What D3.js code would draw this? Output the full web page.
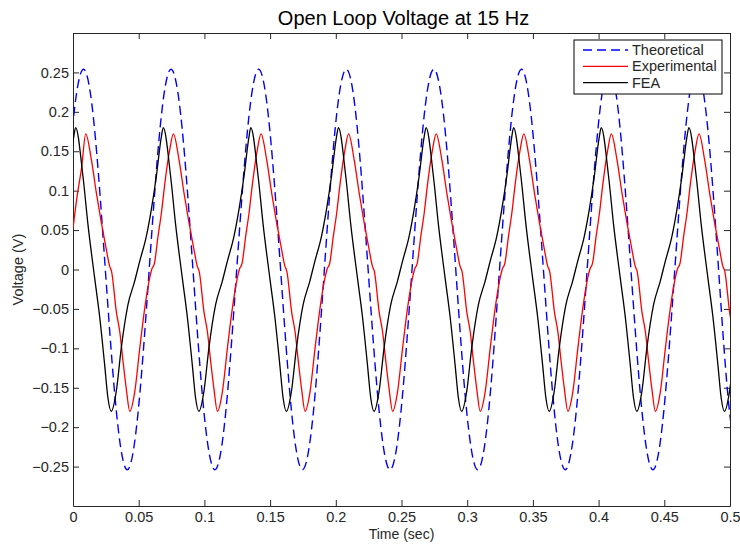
<!DOCTYPE html>
<html>
<head>
<meta charset="utf-8">
<script src="https://cdn.jsdelivr.net/npm/d3@7"></script>
<style>
  html, body { margin: 0; padding: 0; background: #ffffff; }
  svg { display: block; font-family: "Liberation Sans", Arial, Helvetica, sans-serif; }
</style>
</head>
<body>
<svg id="chart" width="740" height="544"></svg>
<script>
// ---- axis ticks ----
const xTickValues = [0, 0.05, 0.1, 0.15, 0.2, 0.25, 0.3, 0.35, 0.4, 0.45, 0.5];
const xTickLabels = ["0", "0.05", "0.1", "0.15", "0.2", "0.25", "0.3", "0.35", "0.4", "0.45", "0.5"];
const yTickValues = [-0.25, -0.2, -0.15, -0.1, -0.05, 0, 0.05, 0.1, 0.15, 0.2, 0.25];
const yTickLabels = ["\u22120.25", "\u22120.2", "\u22120.15", "\u22120.1", "\u22120.05", "0", "0.05", "0.1", "0.15", "0.2", "0.25"];

// ---- series: [time (s), voltage (V)] ----
const seriesNames = ["Theoretical", "Experimental", "FEA"];

const theoretical = [
  [-0.0087, 0], [-0.0004, 0.180], [0.0080, 0.254], [0.0163, 0.180], [0.0246, 0], [0.0330, -0.180],
  [0.0413, -0.254], [0.0496, -0.180], [0.0580, 0], [0.0663, 0.180], [0.0746, 0.254], [0.0830, 0.180],
  [0.0913, 0], [0.0996, -0.180], [0.1080, -0.254], [0.1163, -0.180], [0.1246, 0], [0.1330, 0.180],
  [0.1413, 0.254], [0.1496, 0.180], [0.1580, 0], [0.1663, -0.180], [0.1746, -0.254], [0.1830, -0.180],
  [0.1913, 0], [0.1996, 0.180], [0.2080, 0.254], [0.2163, 0.180], [0.2246, 0], [0.2330, -0.180],
  [0.2413, -0.254], [0.2496, -0.180], [0.2580, 0], [0.2663, 0.180], [0.2746, 0.254], [0.2830, 0.180],
  [0.2913, 0], [0.2996, -0.180], [0.3080, -0.254], [0.3163, -0.180], [0.3246, 0], [0.3330, 0.180],
  [0.3413, 0.254], [0.3496, 0.180], [0.3580, 0], [0.3663, -0.180], [0.3746, -0.254], [0.3830, -0.180],
  [0.3913, 0], [0.3996, 0.180], [0.4080, 0.254], [0.4163, 0.180], [0.4246, 0], [0.4330, -0.180],
  [0.4413, -0.254], [0.4496, -0.180], [0.4580, 0], [0.4663, 0.180], [0.4746, 0.254], [0.4830, 0.180],
  [0.4913, 0], [0.4996, -0.180], [0.5080, -0.254]
];

const experimental = [
  [0.0000, 0.052], [0.0027, 0.088], [0.0066, 0.130],
  [0.0097, 0.172], [0.0140, 0.139], [0.0178, 0.097], [0.0254, 0.025], [0.0279, 0.004], [0.0293, -0.002],
  [0.0330, -0.054], [0.0356, -0.079], [0.0381, -0.117], [0.0406, -0.152], [0.0432, -0.180],
  [0.0470, -0.155], [0.0508, -0.100], [0.0546, -0.049], [0.0582, -0.012], [0.0599, 0.000],
  [0.0620, 0.008], [0.0647, 0.042], [0.0673, 0.072], [0.0698, 0.108], [0.0736, 0.152],
  [0.0764, 0.172], [0.0807, 0.139], [0.0845, 0.097], [0.0921, 0.025], [0.0946, 0.004], [0.0960, -0.002],
  [0.0997, -0.054], [0.1023, -0.079], [0.1048, -0.117], [0.1073, -0.152], [0.1099, -0.180],
  [0.1137, -0.155], [0.1175, -0.100], [0.1213, -0.049], [0.1249, -0.012], [0.1266, 0.000],
  [0.1287, 0.008], [0.1314, 0.042], [0.1340, 0.072], [0.1365, 0.108], [0.1403, 0.152],
  [0.1431, 0.172], [0.1474, 0.139], [0.1512, 0.097], [0.1588, 0.025], [0.1613, 0.004], [0.1627, -0.002],
  [0.1664, -0.054], [0.1690, -0.079], [0.1715, -0.117], [0.1740, -0.152], [0.1766, -0.180],
  [0.1804, -0.155], [0.1842, -0.100], [0.1880, -0.049], [0.1916, -0.012], [0.1933, 0.000],
  [0.1954, 0.008], [0.1981, 0.042], [0.2007, 0.072], [0.2032, 0.108], [0.2070, 0.152],
  [0.2097, 0.172], [0.2140, 0.139], [0.2178, 0.097], [0.2254, 0.025], [0.2279, 0.004], [0.2293, -0.002],
  [0.2330, -0.054], [0.2356, -0.079], [0.2381, -0.117], [0.2406, -0.152], [0.2432, -0.180],
  [0.2470, -0.155], [0.2508, -0.100], [0.2546, -0.049], [0.2582, -0.012], [0.2599, 0.000],
  [0.2620, 0.008], [0.2647, 0.042], [0.2673, 0.072], [0.2698, 0.108], [0.2736, 0.152],
  [0.2764, 0.172], [0.2807, 0.139], [0.2845, 0.097], [0.2921, 0.025], [0.2946, 0.004], [0.2960, -0.002],
  [0.2997, -0.054], [0.3023, -0.079], [0.3048, -0.117], [0.3073, -0.152], [0.3099, -0.180],
  [0.3137, -0.155], [0.3175, -0.100], [0.3213, -0.049], [0.3249, -0.012], [0.3266, 0.000],
  [0.3287, 0.008], [0.3314, 0.042], [0.3340, 0.072], [0.3365, 0.108], [0.3403, 0.152],
  [0.3431, 0.172], [0.3474, 0.139], [0.3512, 0.097], [0.3588, 0.025], [0.3613, 0.004], [0.3627, -0.002],
  [0.3664, -0.054], [0.3690, -0.079], [0.3715, -0.117], [0.3740, -0.152], [0.3766, -0.180],
  [0.3804, -0.155], [0.3842, -0.100], [0.3880, -0.049], [0.3916, -0.012], [0.3933, 0.000],
  [0.3954, 0.008], [0.3981, 0.042], [0.4007, 0.072], [0.4032, 0.108], [0.4070, 0.152],
  [0.4097, 0.172], [0.4140, 0.139], [0.4178, 0.097], [0.4254, 0.025], [0.4279, 0.004], [0.4293, -0.002],
  [0.4330, -0.054], [0.4356, -0.079], [0.4381, -0.117], [0.4406, -0.152], [0.4432, -0.180],
  [0.4470, -0.155], [0.4508, -0.100], [0.4546, -0.049], [0.4582, -0.012], [0.4599, 0.000],
  [0.4620, 0.008], [0.4647, 0.042], [0.4673, 0.072], [0.4698, 0.108], [0.4736, 0.152],
  [0.4764, 0.172], [0.4807, 0.139], [0.4845, 0.097], [0.4921, 0.025], [0.4946, 0.004], [0.4960, -0.002],
  [0.4997, -0.054], [0.5023, -0.079]
];

const fea = [
  [-0.0033, 0.118], [0.0005, 0.168],
  [0.0020, 0.180], [0.0076, 0.118], [0.0114, 0.057], [0.0165, -0.011], [0.0203, -0.060], [0.0241, -0.121],
  [0.0266, -0.163], [0.0291, -0.180], [0.0329, -0.155], [0.0367, -0.100], [0.0418, -0.045], [0.0469, -0.015],
  [0.0507, 0.010], [0.0558, 0.042], [0.0596, 0.076], [0.0634, 0.118], [0.0672, 0.168],
  [0.0687, 0.180], [0.0743, 0.118], [0.0781, 0.057], [0.0832, -0.011], [0.0870, -0.060], [0.0908, -0.121],
  [0.0933, -0.163], [0.0958, -0.180], [0.0996, -0.155], [0.1034, -0.100], [0.1085, -0.045], [0.1136, -0.015],
  [0.1174, 0.010], [0.1225, 0.042], [0.1263, 0.076], [0.1301, 0.118], [0.1339, 0.168],
  [0.1353, 0.180], [0.1409, 0.118], [0.1447, 0.057], [0.1498, -0.011], [0.1536, -0.060], [0.1574, -0.121],
  [0.1599, -0.163], [0.1624, -0.180], [0.1662, -0.155], [0.1700, -0.100], [0.1751, -0.045], [0.1802, -0.015],
  [0.1840, 0.010], [0.1891, 0.042], [0.1929, 0.076], [0.1967, 0.118], [0.2005, 0.168],
  [0.2020, 0.180], [0.2076, 0.118], [0.2114, 0.057], [0.2165, -0.011], [0.2203, -0.060], [0.2241, -0.121],
  [0.2266, -0.163], [0.2291, -0.180], [0.2329, -0.155], [0.2367, -0.100], [0.2418, -0.045], [0.2469, -0.015],
  [0.2507, 0.010], [0.2558, 0.042], [0.2596, 0.076], [0.2634, 0.118], [0.2672, 0.168],
  [0.2687, 0.180], [0.2743, 0.118], [0.2781, 0.057], [0.2832, -0.011], [0.2870, -0.060], [0.2908, -0.121],
  [0.2933, -0.163], [0.2958, -0.180], [0.2996, -0.155], [0.3034, -0.100], [0.3085, -0.045], [0.3136, -0.015],
  [0.3174, 0.010], [0.3225, 0.042], [0.3263, 0.076], [0.3301, 0.118], [0.3339, 0.168],
  [0.3353, 0.180], [0.3409, 0.118], [0.3447, 0.057], [0.3498, -0.011], [0.3536, -0.060], [0.3574, -0.121],
  [0.3599, -0.163], [0.3624, -0.180], [0.3662, -0.155], [0.3700, -0.100], [0.3751, -0.045], [0.3802, -0.015],
  [0.3840, 0.010], [0.3891, 0.042], [0.3929, 0.076], [0.3967, 0.118], [0.4005, 0.168],
  [0.4020, 0.180], [0.4076, 0.118], [0.4114, 0.057], [0.4165, -0.011], [0.4203, -0.060], [0.4241, -0.121],
  [0.4266, -0.163], [0.4291, -0.180], [0.4329, -0.155], [0.4367, -0.100], [0.4418, -0.045], [0.4469, -0.015],
  [0.4507, 0.010], [0.4558, 0.042], [0.4596, 0.076], [0.4634, 0.118], [0.4672, 0.168],
  [0.4687, 0.180], [0.4743, 0.118], [0.4781, 0.057], [0.4832, -0.011], [0.4870, -0.060], [0.4908, -0.121],
  [0.4933, -0.163], [0.4958, -0.180], [0.4996, -0.155], [0.5034, -0.100]
];

// ---- layout ----
const width = 740, height = 544;
const margin = { top: 33, right: 10, bottom: 38, left: 73 };
const innerW = width - margin.left - margin.right;
const innerH = height - margin.top - margin.bottom;

const svg = d3.select("#chart");
const g = svg.append("g").attr("transform", `translate(${margin.left},${margin.top})`);

const x = d3.scaleLinear().domain([0, 0.5]).range([0, innerW]);
const y = d3.scaleLinear().domain([-0.3, 0.3]).range([innerH, 0]);

const axisColor = "#262626";
const labelColor = "#262626";
const tickFont = "14.5px";

// clip traces to the axes box
svg.append("defs").append("clipPath").attr("id", "plot-clip")
  .append("rect").attr("width", innerW).attr("height", innerH);

// ---- axes (inward ticks on all four sides) ----
function styleAxis(sel) {
  sel.selectAll("path.domain").attr("stroke", axisColor).attr("stroke-width", 1);
  sel.selectAll(".tick line").attr("stroke", axisColor).attr("stroke-width", 1);
  sel.selectAll(".tick text").attr("fill", labelColor).style("font-size", tickFont);
  sel.attr("font-family", null);
}

g.append("g")
  .attr("transform", `translate(0,${innerH})`)
  .call(d3.axisBottom(x).tickValues(xTickValues).tickFormat((d, i) => xTickLabels[i])
    .tickSizeInner(-6).tickSizeOuter(0).tickPadding(6))
  .call(styleAxis);

g.append("g")
  .call(d3.axisLeft(y).tickValues(yTickValues).tickFormat((d, i) => yTickLabels[i])
    .tickSizeInner(-6).tickSizeOuter(0).tickPadding(4))
  .call(styleAxis);

g.append("g")
  .call(d3.axisTop(x).tickValues(xTickValues).tickFormat("").tickSizeInner(-6).tickSizeOuter(0))
  .call(styleAxis);

g.append("g")
  .attr("transform", `translate(${innerW},0)`)
  .call(d3.axisRight(y).tickValues(yTickValues).tickFormat("").tickSizeInner(-6).tickSizeOuter(0))
  .call(styleAxis);

// ---- traces ----
const lineSmooth = d3.line().x(d => x(d[0])).y(d => y(d[1])).curve(d3.curveNatural);
const lineMono = d3.line().x(d => x(d[0])).y(d => y(d[1])).curve(d3.curveMonotoneX);

const traces = g.append("g").attr("clip-path", "url(#plot-clip)");

const styles = [
  { data: theoretical, gen: lineSmooth, color: "#0000ff", dash: "9,5", width: 1.4 },
  { data: experimental, gen: lineMono, color: "#ff0000", dash: null, width: 1.3 },
  { data: fea, gen: lineMono, color: "#000000", dash: null, width: 1.3 }
];

styles.forEach(s => {
  traces.append("path")
    .attr("d", s.gen(s.data))
    .attr("fill", "none")
    .attr("stroke", s.color)
    .attr("stroke-width", s.width)
    .attr("stroke-dasharray", s.dash)
    .attr("stroke-linejoin", "round");
});

// ---- title and axis labels ----
svg.append("text")
  .attr("x", margin.left + innerW / 2 + 2)
  .attr("y", 25)
  .attr("text-anchor", "middle")
  .style("font-size", "20px")
  .attr("fill", "#000")
  .text("Open Loop Voltage at 15 Hz");

svg.append("text")
  .attr("x", margin.left + innerW / 2)
  .attr("y", 539)
  .attr("text-anchor", "middle")
  .style("font-size", "14px")
  .attr("fill", labelColor)
  .text("Time (sec)");

svg.append("text")
  .attr("transform", `translate(23,${margin.top + innerH / 2}) rotate(-90)`)
  .attr("text-anchor", "middle")
  .style("font-size", "14.5px")
  .attr("fill", labelColor)
  .text("Voltage (V)");

// ---- legend ----
const legend = svg.append("g").attr("transform", "translate(574,40)");
legend.append("rect")
  .attr("width", 148).attr("height", 54)
  .attr("fill", "#ffffff").attr("stroke", "#000").attr("stroke-width", 1);

const legendItems = legend.selectAll("g.item")
  .data(seriesNames)
  .join("g")
  .attr("class", "item")
  .attr("transform", (d, i) => `translate(0,${10 + i * 16.3})`);

legendItems.append("line")
  .attr("x1", 9).attr("x2", 54).attr("y1", 0).attr("y2", 0)
  .attr("stroke", (d, i) => styles[i].color)
  .attr("stroke-width", (d, i) => styles[i].width)
  .attr("stroke-dasharray", (d, i) => styles[i].dash);

legendItems.append("text")
  .attr("x", 58).attr("y", 0).attr("dy", "0.35em")
  .style("font-size", "14.5px")
  .attr("fill", labelColor)
  .text(d => d);
</script>
</body>
</html>
